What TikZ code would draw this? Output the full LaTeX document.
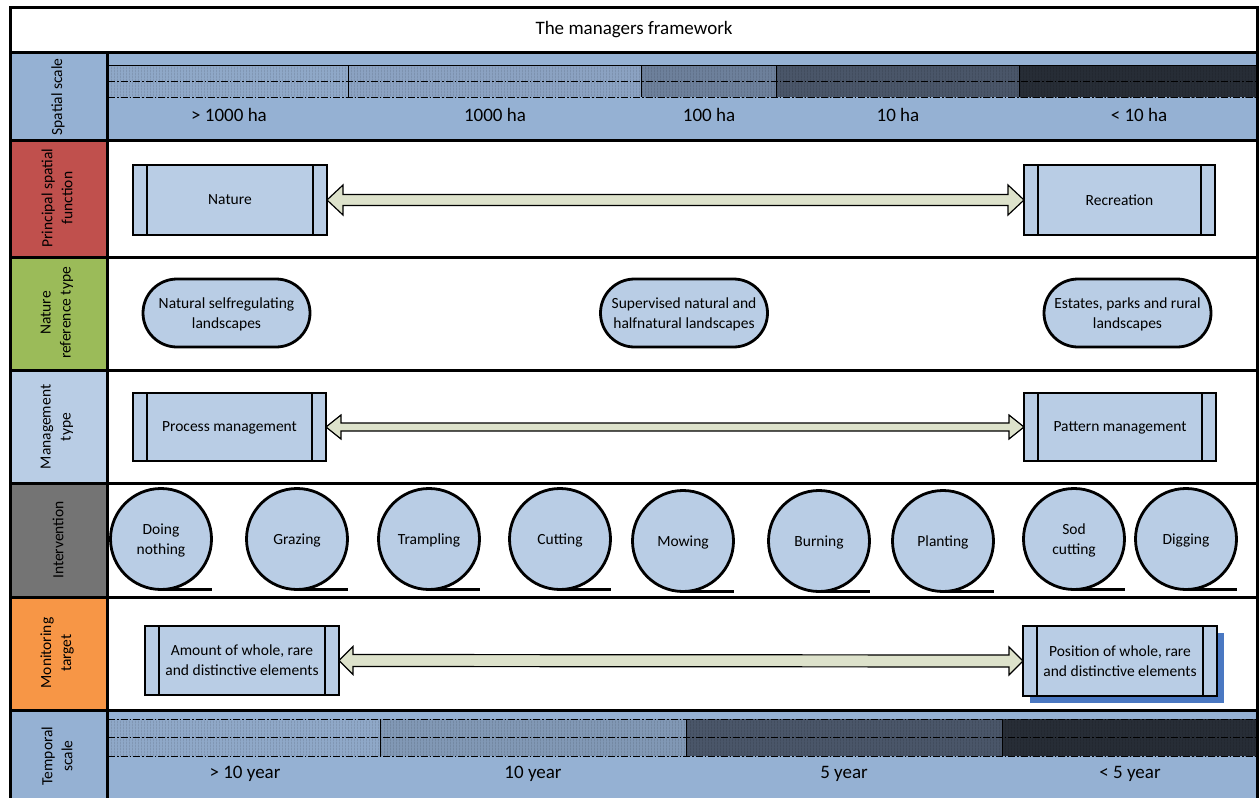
\documentclass[tikz,border=0pt]{standalone}
\usepackage{fontspec}
\setmainfont{Carlito}
\usetikzlibrary{calc,shapes.misc,shadows,patterns.meta}

\definecolor{scalebg}{HTML}{95B1D3}
\definecolor{boxfill}{HTML}{B9CDE5}
\definecolor{redcell}{HTML}{C0504D}
\definecolor{greencell}{HTML}{9BBB59}
\definecolor{greycell}{HTML}{747474}
\definecolor{orangecell}{HTML}{F79646}
\definecolor{arrowfill}{HTML}{DDE2CB}
\definecolor{shadowblue}{HTML}{4A78C2}
\definecolor{segA}{HTML}{8FA8C8}
\definecolor{segB}{HTML}{8BA2C2}
\definecolor{segC}{HTML}{6D809B}
\definecolor{segD}{HTML}{4A5669}
\definecolor{segE}{HTML}{272D36}
\definecolor{segT}{HTML}{8198B5}

\pgfdeclarepattern{
  name=vstripes,
  type=uncolored,
  bottom left={\pgfpoint{0pt}{0pt}},
  top right={\pgfpoint{3pt}{3pt}},
  tile size={\pgfpoint{3pt}{3pt}},
  code={\pgfpathrectangle{\pgfpointorigin}{\pgfpoint{0.7pt}{3pt}}\pgfusepath{fill}}
}

\newcommand\txtsize{\fontsize{15.5}{20}\selectfont}
\newcommand\bigsize{\fontsize{19}{23}\selectfont}

% one coloured, finely striped segment of a scale bar
\newcommand\scaleseg[5]{%
  \fill[#5] (#1,#3) rectangle (#2,#4);
  \fill[pattern=vstripes, pattern color=#5!85!black] (#1,#3) rectangle (#2,#4);
}
% the two inner bars of a process box
\newcommand\procbars[1]{%
  \draw[line width=2.8pt] ([xshift=14pt]#1.north west) -- ([xshift=14pt]#1.south west);
  \draw[line width=2.8pt] ([xshift=-14pt]#1.north east) -- ([xshift=-14pt]#1.south east);
}
% block double arrow between two boxes: shaft half-width, head half-width, head length
\newcommand\dblarrow[5]{%
  \draw[arrowbody] (#1.east) -- ($(#1.east)+(#5,-#4)$) -- ($(#1.east)+(#5,-#3)$)
    -- ($(#2.west)+(-#5,-#3)$) -- ($(#2.west)+(-#5,-#4)$) -- (#2.west)
    -- ($(#2.west)+(-#5,#4)$) -- ($(#2.west)+(-#5,#3)$)
    -- ($(#1.east)+(#5,#3)$) -- ($(#1.east)+(#5,#4)$) -- cycle;
}

\begin{document}
\begin{tikzpicture}[x=1pt,y=-1pt,
  frame/.style={line width=3pt, draw=black},
  rowlabel/.style={rotate=90, align=center, font=\txtsize, inner sep=0pt},
  scalelabel/.style={font=\bigsize, inner sep=0pt},
  procbox/.style={draw, line width=2.8pt, fill=boxfill, outer sep=0pt,
    align=center, font=\txtsize, inner sep=0pt, text depth=0pt},
  oval/.style={rounded rectangle, draw, line width=2.8pt, fill=boxfill,
    minimum width=167pt, minimum height=68pt, align=center, font=\txtsize,
    inner sep=0pt, text depth=0pt},
  store/.style={circle, draw, line width=2.8pt, fill=boxfill, minimum size=101pt,
    outer sep=0pt, align=center, font=\txtsize, inner sep=0pt, text depth=0pt},
  tail/.style={line width=2.8pt, line cap=rect},
  arrowbody/.style={draw=black, line width=1.2pt, fill=arrowfill, line join=miter},
  dashdot/.style={line width=0.8pt, dash pattern=on 7pt off 2pt on 1.5pt off 2pt},
]
\useasboundingbox (0,0) rectangle (1259,798);
\fill[white] (0,0) rectangle (1259,798);

% ---------- row backgrounds and label cells ----------
\fill[scalebg] (10,52) rectangle (1257,140);
\fill[scalebg] (10,710) rectangle (1257,800);
\fill[redcell] (10,140) rectangle (107,257);
\fill[greencell] (10,257) rectangle (107,370);
\fill[boxfill] (10,370) rectangle (107,483);
\fill[greycell] (10,483) rectangle (107,597);
\fill[orangecell] (10,597) rectangle (107,710);

% ---------- spatial scale bar ----------
\scaleseg{108}{348}{65}{97}{segA}
\scaleseg{348}{641}{65}{97}{segB}
\scaleseg{641}{776}{65}{97}{segC}
\scaleseg{776}{1019}{65}{97}{segD}
\scaleseg{1019}{1257}{65}{97}{segE}
\draw[line width=0.9pt] (108,65) -- (1257,65);
\draw[dashdot] (108,81) -- (1257,81);
\draw[dashdot] (108,97) -- (1257,97);
\foreach \xx in {348,641,776,1019} \draw[line width=0.9pt] (\xx,65) -- (\xx,97);

% ---------- temporal scale bar ----------
\scaleseg{108}{380}{719}{756}{segA}
\scaleseg{380}{686}{719}{756}{segT}
\scaleseg{686}{1002}{719}{756}{segD}
\scaleseg{1002}{1257}{719}{756}{segE}
\draw[dashdot] (108,719) -- (1257,719);
\draw[dashdot] (108,737) -- (1257,737);
\draw[dashdot] (108,756) -- (1257,756);
\foreach \xx in {380,686,1002} \draw[line width=0.9pt] (\xx,719) -- (\xx,756);

% ---------- grid ----------
\draw[frame] (10,7) rectangle (1257,803);
\foreach \yy in {52,140,257,370,483,597,710} \draw[frame] (10,\yy) -- (1257,\yy);
\draw[frame] (107,52) -- (107,803);

% ---------- title ----------
\node[font=\bigsize, inner sep=0pt] (title) at (634,30) {The managers framework};

% ---------- row labels ----------
\node[rowlabel] (lspatial) at (58,97) {Spatial scale};
\node[rowlabel] (lfunction) at (57,198) {Principal spatial\\function};
\node[rowlabel] (lnature) at (57,313) {Nature\\reference type};
\node[rowlabel] (lmanage) at (57,427) {Management\\type};
\node[rowlabel] (linterv) at (58,540) {Intervention};
\node[rowlabel] (lmonitor) at (57,653) {Monitoring\\target};
\node[rowlabel] (ltemporal) at (57,756) {Temporal\\scale};

% ---------- scale labels ----------
\node[scalelabel] (s1) at (229,115) {> 1000 ha};
\node[scalelabel] (s2) at (495,115) {1000 ha};
\node[scalelabel] (s3) at (709,115) {100 ha};
\node[scalelabel] (s4) at (898,115) {10 ha};
\node[scalelabel] (s5) at (1139,115) {< 10 ha};
\node[scalelabel] (t1) at (245,774) {> 10 year};
\node[scalelabel] (t2) at (533,774) {10 year};
\node[scalelabel] (t3) at (844,774) {5 year};
\node[scalelabel] (t4) at (1130,774) {< 5 year};

% ---------- principal spatial function ----------
\node[procbox, minimum width=194pt, minimum height=70pt] (nature) at (230,200) {Nature};
\node[procbox, minimum width=191pt, minimum height=70pt] (recreation) at (1119.5,200) {Recreation};
\procbars{nature}
\procbars{recreation}
\dblarrow{nature}{recreation}{5.5}{15}{16}

% ---------- nature reference type ----------
\node[oval] (selfreg) at (226.5,313) {Natural selfregulating\\landscapes};
\node[oval] (supervised) at (684,313) {Supervised natural and\\halfnatural landscapes};
\node[oval] (estates) at (1127.5,313) {Estates, parks and rural\\landscapes};

% ---------- management type ----------
\node[procbox, minimum width=193pt, minimum height=68pt] (process) at (229.5,427) {Process management};
\node[procbox, minimum width=192pt, minimum height=68pt] (pattern) at (1120,427) {Pattern management};
\procbars{process}
\procbars{pattern}
\dblarrow{process}{pattern}{4}{12}{15}

% ---------- interventions ----------
\foreach \nm/\cx/\cy/\txt in {
    nothing/161/539/{Doing\\nothing},
    grazing/297/539/{Grazing},
    trampling/429/539/{Trampling},
    cutting/560/539/{Cutting},
    mowing/683/541/{Mowing},
    burning/819/541/{Burning},
    planting/943/541/{Planting},
    sod/1074/539/{Sod\\cutting},
    digging/1186/539/{Digging}} {
  \node[store] (\nm) at (\cx,\cy) {\txt};
  \draw[tail] (\nm.south) -- ++(50,0);
}

% ---------- monitoring target ----------
\node[procbox, minimum width=194pt, minimum height=69pt] (amount) at (242,660.5)
  {Amount of whole, rare\\and distinctive elements};
\node[procbox, minimum width=194pt, minimum height=70pt,
  drop shadow={shadow xshift=7pt, shadow yshift=-7pt, fill=shadowblue, opacity=1, draw=none}]
  (position) at (1120,661) {Position of whole, rare\\and distinctive elements};
\procbars{amount}
\procbars{position}
\dblarrow{amount}{position}{6}{14}{14}

\end{tikzpicture}
\end{document}
